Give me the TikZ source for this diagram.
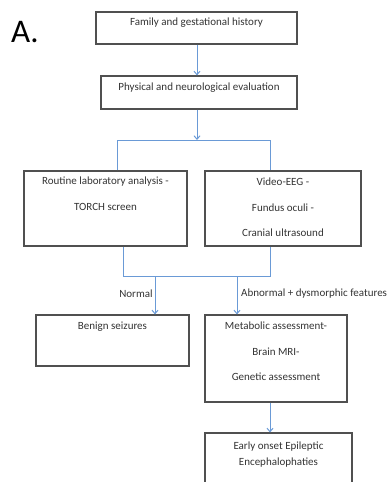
\documentclass[tikz,border=0pt]{standalone}
\usepackage{fontspec}
\setmainfont{Carlito}
\usetikzlibrary{arrows.meta}
\definecolor{boxline}{HTML}{505050}
\definecolor{arrowblue}{HTML}{6A9AD6}
\definecolor{txt}{HTML}{333333}
\begin{document}
\begin{tikzpicture}[x=1pt,y=-1pt,
  box/.style={draw=boxline, line width=1.1pt, inner sep=0pt},
  lbl/.style={font=\fontsize{11}{13}\selectfont, text=txt, inner sep=0pt},
  conn/.style={draw=arrowblue, line width=1pt},
  arr/.style={conn, -{Straight Barb[length=3.5pt,width=6pt]}}]
\useasboundingbox (0,0) rectangle (391,482);
\clip (0,0) rectangle (391,482);
% title
\node[font=\fontsize{33}{35}\selectfont, inner sep=0pt, anchor=west] (title) at (11,32) {A.};
% boxes
\node[box, minimum width=201pt, minimum height=32pt] (b1) at (196.5,28) {};
\node[lbl] (t1) at (196.5,22.5) {Family and gestational history};
\node[box, minimum width=196pt, minimum height=33pt] (b2) at (199,92.5) {};
\node[lbl] (t2) at (199,88) {Physical and neurological evaluation};
\node[box, minimum width=163pt, minimum height=75pt] (b3) at (105.5,208.5) {};
\node[lbl] (t3a) at (105.5,182) {Routine laboratory analysis -};
\node[lbl] (t3b) at (105.5,207) {TORCH screen};
\node[box, minimum width=156pt, minimum height=75pt] (b4) at (283,208.5) {};
\node[lbl] (t4a) at (283,182) {Video-EEG -};
\node[lbl] (t4b) at (283,208) {Fundus oculi -};
\node[lbl] (t4c) at (283,233) {Cranial ultrasound};
\node[box, minimum width=153pt, minimum height=51pt] (b5) at (112.5,340.5) {};
\node[lbl] (t5) at (112.5,327) {Benign seizures};
\node[box, minimum width=142pt, minimum height=87pt] (b6) at (276,358.5) {};
\node[lbl] (t6a) at (276,326) {Metabolic assessment-};
\node[lbl] (t6b) at (276,352) {Brain MRI-};
\node[lbl] (t6c) at (276,377) {Genetic assessment};
\node[box, minimum width=147pt, minimum height=70pt] (b7) at (278.5,468) {};
\node[lbl] (t7a) at (278.5,447) {Early onset Epileptic};
\node[lbl] (t7b) at (278.5,463) {Encephalophaties};
% connectors
\coordinate (j1) at (197,140);
\coordinate (j1l) at (117,140);
\coordinate (j1r) at (270,140);
\coordinate (j2l) at (123,276);
\coordinate (j2r) at (270,276);
\coordinate (j2a) at (155,276);
\coordinate (j2b) at (237,276);
\draw[arr] (b1.south -| j1) -- (b2.north -| j1);
\draw[arr] (b2.south -| j1) -- (j1);
\draw[conn] (b3.north -| j1l) -- (j1l) -- (j1r) -- (b4.north -| j1r);
\draw[conn] (b3.south -| j2l) -- (j2l) -- (j2r) -- (b4.south -| j2r);
\draw[arr] (j2a) -- (b5.north -| j2a);
\draw[arr] (j2b) -- (b6.north -| j2b);
\draw[arr] (b6.south -| j2r) -- (b7.north -| j2r);
% labels
\node[lbl] (normal) at (136,294) {Normal};
\node[lbl, anchor=west] (abn) at (241,294) {Abnormal + dysmorphic features};
\end{tikzpicture}
\end{document}
